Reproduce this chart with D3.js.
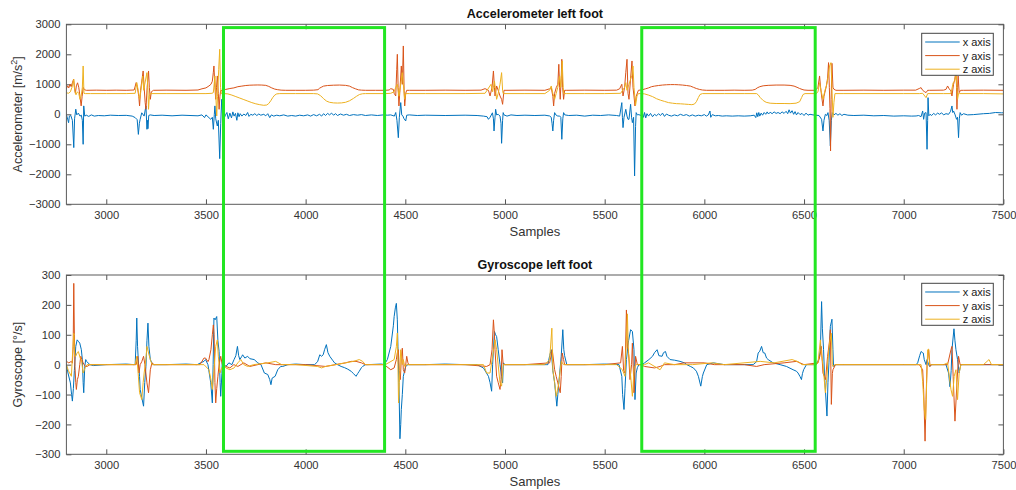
<!DOCTYPE html>
<html>
<head>
<meta charset="utf-8">
<script src="https://cdn.jsdelivr.net/npm/d3@7"></script>
<style>
  html, body { margin: 0; padding: 0; background: #ffffff; }
  svg { display: block; font-family: "Liberation Sans", Arial, Helvetica, sans-serif; }
  .tick text { fill: #333333; font-size: 11.2px; }
  .tick line { stroke: #555555; }
</style>
</head>
<body>
<svg id="chart" width="1016" height="490"></svg>
<script>
// ---- Series: [sample, value] ----
const seriesNames = ["x axis", "y axis", "z axis"];
const seriesColors = ["#0072BD", "#D95319", "#EDB120"];

// Accelerometer, x axis [m/s^2]
const accX = [[2800,-20],[2805,-120],[2811,-280],[2815,-60],[2822,-40],[2830,-200],[2837,-1110],[2841,-150],[2847,170],[2852,-20],[2860,40],[2868,-60],[2875,-30],[2880,-200],[2884,-1000],[2887,280],[2892,-60],[2900,-30],[2912,-70],[2925,-20],[2940,-60],[2960,-40],[2990,-50],[3020,-30],[3060,-40],[3100,-35],[3130,-60],[3145,-110],[3155,-180],[3161,-670],[3166,-300],[3170,-167],[3178,50],[3190,-60],[3199,280],[3204,-500],[3207,-200],[3209,-480],[3213,-40],[3220,-20],[3240,-40],[3280,-30],[3330,-50],[3380,-30],[3420,-40],[3460,-50],[3480,-20],[3493,-111],[3500,-20],[3510,-80],[3524,-167],[3532,-100],[3537,-500],[3542,0],[3545,280],[3549,-150],[3557,-389],[3562,-200],[3569,-1478],[3574,-300],[3579,500],[3584,-100],[3590,-160],[3598,-20],[3605,60],[3612,-150],[3620,40],[3628,-120],[3635,80],[3641,-60],[3648,30],[3655,-200],[3660,50],[3666,-80],[3672,20],[3680,-60],[3690,10],[3700,-40],[3709,60],[3716,-70],[3725,0],[3735,-30],[3745,20],[3755,-40],[3765,10],[3775,-30],[3790,0],[3800,-50],[3810,20],[3820,-110],[3828,-20],[3840,-60],[3855,-30],[3870,-50],[3890,-20],[3910,-60],[3930,-40],[3950,-60],[3970,-30],[3990,-50],[4010,-20],[4025,-60],[4040,-10],[4055,-50],[4070,0],[4080,-60],[4090,20],[4100,-40],[4110,30],[4120,-20],[4130,40],[4140,-30],[4150,20],[4160,-40],[4175,10],[4190,-30],[4205,0],[4220,-40],[4240,-10],[4260,-30],[4280,-10],[4300,-40],[4330,-20],[4360,-40],[4390,-20],[4410,-30],[4427,-20],[4445,-60],[4452,60],[4458,-200],[4465,-780],[4470,-100],[4477,390],[4482,-20],[4488,-60],[4493,-140],[4502,-222],[4507,-30],[4520,-20],[4560,-40],[4600,-30],[4700,-40],[4800,-30],[4860,-40],[4892,-60],[4910,-80],[4917,-167],[4925,-100],[4937,50],[4942,-150],[4945,-556],[4950,-100],[4953,167],[4958,-20],[4966,0],[4975,-60],[4980,-300],[4983,-967],[4988,-200],[4991,56],[4995,-20],[5010,-60],[5030,-20],[5060,-40],[5100,-30],[5150,-40],[5200,-30],[5224,-56],[5232,-100],[5236,-300],[5240,-556],[5244,-200],[5249,56],[5255,-20],[5265,-60],[5274,-56],[5280,-100],[5285,-833],[5290,-150],[5294,56],[5300,-20],[5320,-40],[5360,-30],[5400,-60],[5440,-30],[5480,-40],[5520,-20],[5560,-40],[5575,-60],[5586,389],[5589,-100],[5592,-444],[5597,-100],[5606,167],[5612,-60],[5617,-167],[5622,-167],[5630,333],[5635,-100],[5639,-278],[5645,-100],[5650,-2056],[5655,-400],[5658,56],[5664,-20],[5672,-10],[5680,-40],[5689,50],[5695,-100],[5700,60],[5706,-120],[5712,20],[5720,-60],[5730,30],[5740,-80],[5750,0],[5760,-50],[5770,20],[5780,-40],[5790,40],[5800,-70],[5810,10],[5820,-30],[5835,-60],[5850,-20],[5865,-50],[5880,0],[5895,-40],[5910,-10],[5925,-60],[5940,-20],[5955,-60],[5970,-30],[5985,-50],[6000,-10],[6010,-60],[6020,-20],[6028,110],[6032,-100],[6040,-10],[6055,-50],[6070,-40],[6090,-60],[6110,-50],[6140,-60],[6170,-50],[6200,-60],[6230,-50],[6250,-30],[6258,-110],[6263,50],[6268,-80],[6273,60],[6278,-60],[6285,40],[6292,-30],[6300,60],[6308,0],[6315,80],[6322,10],[6330,70],[6340,20],[6350,80],[6360,30],[6370,60],[6380,20],[6390,80],[6400,30],[6410,100],[6418,20],[6425,150],[6432,40],[6440,120],[6448,0],[6455,90],[6462,-20],[6470,60],[6480,-10],[6490,30],[6500,-40],[6510,40],[6520,-30],[6530,0],[6545,-20],[6560,-30],[6575,-40],[6588,-167],[6595,-556],[6600,-200],[6607,0],[6615,-40],[6620,56],[6626,-200],[6632,-1056],[6637,-200],[6642,56],[6650,-20],[6660,30],[6670,-30],[6680,20],[6690,-40],[6700,0],[6720,-30],[6750,-40],[6800,-30],[6850,-50],[6900,-40],[6950,-60],[7000,-50],[7040,-60],[7062,-56],[7075,-40],[7087,-80],[7095,111],[7100,-167],[7105,40],[7112,56],[7117,-1167],[7120,-200],[7122,555],[7126,-50],[7132,0],[7140,-40],[7150,30],[7160,-20],[7170,40],[7180,0],[7190,50],[7200,-20],[7212,20],[7225,0],[7235,100],[7242,278],[7246,60],[7250,111],[7258,-20],[7265,-167],[7270,-100],[7275,-778],[7279,-150],[7283,56],[7290,-30],[7300,20],[7320,-20],[7350,-10],[7400,20],[7430,30],[7460,60],[7490,50],[7500,50]];

// Accelerometer, y axis [m/s^2]
const accY = [[2800,850],[2806,950],[2812,880],[2818,1000],[2824,920],[2830,1050],[2836,1170],[2840,900],[2845,700],[2850,950],[2856,1050],[2862,900],[2868,600],[2874,280],[2879,600],[2884,900],[2890,820],[2900,800],[2950,805],[3000,800],[3050,805],[3100,800],[3140,810],[3150,1056],[3156,900],[3163,600],[3167,278],[3172,800],[3180,1200],[3185,1444],[3190,900],[3195,400],[3199,167],[3205,900],[3212,1444],[3216,900],[3221,500],[3226,750],[3237,800],[3300,805],[3400,800],[3460,810],[3480,850],[3500,880],[3515,944],[3525,1000],[3532,1100],[3537,1400],[3540,1611],[3545,900],[3549,500],[3553,900],[3557,1278],[3562,700],[3566,167],[3570,600],[3574,800],[3582,780],[3590,820],[3600,830],[3620,860],[3640,880],[3660,920],[3680,940],[3700,960],[3720,970],[3740,975],[3760,978],[3780,975],[3800,965],[3815,930],[3830,880],[3845,840],[3860,820],[3877,805],[3900,800],[3950,800],[4000,800],[4040,805],[4062,820],[4070,870],[4078,900],[4090,940],[4110,960],[4140,970],[4170,975],[4200,965],[4220,940],[4235,890],[4250,850],[4265,815],[4280,805],[4300,800],[4350,800],[4400,800],[4419,810],[4427,855],[4440,830],[4444,700],[4452,611],[4457,1500],[4460,2000],[4464,900],[4468,278],[4473,800],[4480,1611],[4485,1000],[4490,2278],[4494,800],[4497,278],[4502,700],[4507,800],[4520,800],[4600,800],[4700,805],[4800,800],[4880,805],[4900,855],[4917,800],[4925,611],[4935,900],[4942,1444],[4947,900],[4950,611],[4958,944],[4966,800],[4975,611],[4983,500],[4988,333],[4995,800],[5010,800],[5100,805],[5200,800],[5224,850],[5232,889],[5240,600],[5244,278],[5249,700],[5257,889],[5265,1000],[5270,1667],[5274,900],[5277,500],[5282,1200],[5285,1833],[5289,900],[5294,500],[5299,800],[5310,800],[5400,805],[5500,800],[5560,805],[5575,850],[5586,1000],[5592,611],[5600,900],[5606,1400],[5612,1833],[5617,700],[5622,500],[5630,1200],[5637,1778],[5642,900],[5647,611],[5652,278],[5658,600],[5669,800],[5680,810],[5690,820],[5705,850],[5720,880],[5735,920],[5750,940],[5770,960],[5790,975],[5810,985],[5830,990],[5850,990],[5870,985],[5890,975],[5910,960],[5930,940],[5945,900],[5960,860],[5975,830],[5990,810],[6010,800],[6050,800],[6100,800],[6150,805],[6200,800],[6240,805],[6255,830],[6265,880],[6278,920],[6295,950],[6320,965],[6360,975],[6400,975],[6430,965],[6450,940],[6465,900],[6478,860],[6490,830],[6500,810],[6520,800],[6550,800],[6562,830],[6570,900],[6578,1278],[6583,900],[6588,611],[6595,278],[6600,600],[6612,944],[6618,1200],[6623,1722],[6627,900],[6630,200],[6633,-1222],[6636,500],[6640,1700],[6645,900],[6650,833],[6660,800],[6700,800],[6800,805],[6900,800],[7000,805],[7060,805],[7078,860],[7087,889],[7095,800],[7103,760],[7112,722],[7120,800],[7130,800],[7200,805],[7212,830],[7220,944],[7228,850],[7237,780],[7242,611],[7250,1000],[7256,1167],[7262,1444],[7265,900],[7267,167],[7270,900],[7273,1278],[7278,722],[7285,800],[7300,800],[7400,805],[7500,800]];

// Accelerometer, z axis [m/s^2]
const accZ = [[2800,720],[2810,700],[2820,750],[2828,900],[2837,1167],[2842,800],[2848,650],[2855,750],[2862,700],[2868,500],[2874,600],[2880,900],[2884,1611],[2888,700],[2895,690],[2920,690],[3000,690],[3100,690],[3145,700],[3153,1056],[3160,800],[3167,500],[3172,700],[3183,1278],[3188,800],[3193,1000],[3204,1389],[3209,800],[3212,167],[3216,600],[3221,690],[3300,690],[3400,690],[3500,690],[3530,700],[3537,722],[3545,1278],[3549,700],[3554,-56],[3558,600],[3564,1500],[3569,2167],[3573,900],[3577,690],[3590,690],[3610,680],[3630,640],[3650,590],[3670,540],[3690,490],[3710,440],[3730,390],[3750,350],[3770,320],[3790,300],[3805,310],[3815,360],[3825,450],[3835,560],[3845,640],[3855,680],[3870,690],[3950,690],[4040,690],[4060,680],[4075,620],[4090,520],[4105,440],[4120,400],[4140,380],[4160,375],[4180,380],[4200,400],[4220,450],[4240,530],[4255,600],[4270,660],[4285,685],[4300,690],[4400,690],[4427,700],[4444,750],[4452,900],[4460,1000],[4468,600],[4475,900],[4485,1389],[4490,1000],[4497,500],[4502,690],[4520,690],[4600,690],[4800,690],[4900,700],[4930,1000],[4938,750],[4947,1111],[4953,800],[4958,500],[4966,700],[4975,1000],[4983,1389],[4988,800],[4991,690],[5000,690],[5100,690],[5200,690],[5224,800],[5232,944],[5240,700],[5249,500],[5257,700],[5265,900],[5274,1278],[5280,900],[5287,1778],[5292,900],[5295,690],[5310,690],[5400,690],[5500,690],[5580,700],[5600,900],[5606,1056],[5612,800],[5622,1000],[5630,1167],[5637,1300],[5642,1611],[5647,900],[5655,300],[5662,611],[5669,690],[5680,690],[5700,680],[5720,640],[5740,590],[5760,520],[5780,470],[5800,430],[5820,390],[5840,370],[5860,355],[5880,350],[5900,340],[5920,330],[5937,320],[5950,340],[5960,420],[5970,560],[5978,660],[5990,690],[6100,690],[6200,690],[6262,690],[6270,650],[6280,560],[6295,460],[6310,400],[6330,370],[6360,360],[6400,360],[6430,355],[6460,370],[6478,420],[6488,560],[6495,660],[6505,690],[6560,690],[6570,750],[6578,1056],[6585,800],[6595,500],[6605,800],[6612,944],[6620,1200],[6628,1611],[6635,1722],[6640,900],[6645,-100],[6650,400],[6655,690],[6700,690],[7000,690],[7080,690],[7095,700],[7112,555],[7120,690],[7200,690],[7237,690],[7248,1056],[7255,1100],[7263,1333],[7268,800],[7270,500],[7275,700],[7280,690],[7400,690],[7500,680]];

// Gyroscope, x axis [deg/s]
const gyroX = [[2800,0],[2808,-28],[2820,-61],[2826,-100],[2830,-122],[2835,-80],[2840,-20],[2847,61],[2854,83],[2860,78],[2867,72],[2875,50],[2880,17],[2884,-60],[2887,-94],[2892,-6],[2897,17],[2901,11],[2918,0],[2935,-3],[3000,0],[3100,2],[3140,0],[3145,2],[3150,80],[3153,156],[3157,60],[3162,0],[3167,-40],[3170,-83],[3178,-110],[3187,-139],[3193,-60],[3199,-6],[3204,80],[3209,139],[3214,60],[3221,17],[3230,4],[3237,0],[3300,0],[3400,2],[3456,0],[3473,6],[3490,11],[3498,17],[3510,0],[3524,-61],[3532,-128],[3536,0],[3540,156],[3546,150],[3554,161],[3560,80],[3566,44],[3571,-60],[3574,-106],[3580,-30],[3582,17],[3591,0],[3600,-6],[3615,6],[3630,0],[3641,17],[3650,30],[3658,61],[3664,30],[3670,17],[3680,28],[3684,33],[3695,22],[3709,28],[3720,20],[3742,17],[3760,6],[3776,0],[3793,-28],[3810,-33],[3820,-50],[3826,-67],[3832,-45],[3847,-39],[3860,-17],[3875,-6],[3885,-6],[3911,0],[3950,2],[4000,0],[4045,0],[4060,10],[4071,33],[4080,28],[4088,33],[4095,50],[4104,67],[4112,40],[4121,28],[4135,15],[4145,6],[4160,0],[4178,-6],[4195,-10],[4211,-15],[4228,-22],[4240,-30],[4253,-39],[4261,-30],[4269,-22],[4280,-10],[4286,-6],[4300,0],[4311,0],[4380,2],[4394,0],[4410,17],[4427,61],[4440,130],[4444,161],[4450,190],[4455,205],[4460,150],[4463,60],[4468,-61],[4473,-248],[4477,-200],[4480,-150],[4485,-100],[4490,-39],[4502,-6],[4513,0],[4600,0],[4700,2],[4800,0],[4859,0],[4892,-11],[4917,-39],[4925,-60],[4933,-89],[4938,0],[4942,50],[4947,111],[4953,100],[4958,94],[4966,50],[4975,0],[4983,-40],[4988,-61],[4992,6],[5000,0],[5008,0],[5100,0],[5207,0],[5215,0],[5224,30],[5232,50],[5240,-20],[5249,-61],[5260,-139],[5265,-100],[5270,-61],[5282,28],[5290,117],[5295,50],[5299,30],[5310,0],[5400,0],[5500,2],[5572,0],[5586,-39],[5590,-100],[5597,-150],[5602,-80],[5609,17],[5620,80],[5630,117],[5639,111],[5647,50],[5652,-117],[5658,-28],[5664,-10],[5672,0],[5689,0],[5700,6],[5722,17],[5740,28],[5750,40],[5763,50],[5772,30],[5788,28],[5795,40],[5805,44],[5812,28],[5828,17],[5850,15],[5878,11],[5900,6],[5912,0],[5930,-6],[5945,-11],[5960,-22],[5970,-39],[5982,-72],[5990,-40],[5995,-28],[6012,0],[6045,6],[6100,0],[6200,0],[6245,0],[6262,10],[6270,39],[6278,45],[6287,61],[6295,40],[6303,39],[6312,22],[6320,17],[6345,6],[6380,0],[6412,-6],[6445,-17],[6462,-22],[6470,-28],[6480,-40],[6487,-50],[6492,-30],[6498,-17],[6512,0],[6562,0],[6575,20],[6582,50],[6588,211],[6592,120],[6598,50],[6603,-40],[6607,-83],[6615,-172],[6620,-60],[6625,6],[6632,128],[6640,152],[6645,50],[6648,-6],[6657,0],[6700,0],[7000,0],[7062,0],[7070,6],[7080,30],[7087,44],[7095,40],[7098,39],[7103,17],[7112,0],[7117,17],[7125,0],[7130,-6],[7140,0],[7212,0],[7225,-28],[7232,-74],[7238,-20],[7242,50],[7252,120],[7257,80],[7262,50],[7270,17],[7278,-28],[7283,-10],[7287,0],[7400,0],[7500,0]];

// Gyroscope, y axis [deg/s]
const gyroY = [[2800,11],[2812,6],[2825,11],[2830,5],[2834,60],[2837,272],[2840,100],[2843,-6],[2847,-60],[2850,-83],[2855,-50],[2860,-39],[2867,0],[2872,28],[2878,17],[2884,6],[2894,-6],[2904,-6],[2918,0],[3000,0],[3100,0],[3150,0],[3158,28],[3164,-28],[3170,0],[3178,10],[3187,28],[3194,0],[3204,-61],[3212,-94],[3221,-17],[3229,6],[3240,0],[3400,0],[3470,0],[3490,22],[3498,22],[3510,10],[3515,17],[3525,50],[3532,100],[3537,133],[3541,100],[3545,-60],[3549,-128],[3554,-80],[3560,-39],[3566,0],[3574,28],[3582,0],[3591,0],[3600,-6],[3620,-11],[3640,0],[3660,-6],[3690,6],[3720,-6],[3760,0],[3800,6],[3850,0],[3900,0],[4000,0],[4100,-6],[4150,0],[4200,6],[4228,11],[4253,11],[4280,6],[4300,0],[4394,0],[4427,-17],[4444,-11],[4455,17],[4460,40],[4465,50],[4470,-20],[4475,-50],[4480,20],[4485,55],[4490,-17],[4497,-28],[4507,28],[4513,6],[4518,0],[4600,0],[4800,0],[4908,-6],[4925,0],[4935,50],[4942,150],[4947,100],[4950,50],[4958,-39],[4966,-60],[4975,-83],[4980,-50],[4985,50],[4991,0],[5000,0],[5100,0],[5224,6],[5237,50],[5249,-17],[5257,-40],[5265,-61],[5277,-94],[5282,-40],[5287,39],[5294,17],[5299,0],[5310,0],[5400,0],[5500,0],[5580,6],[5589,61],[5595,-20],[5602,-28],[5609,183],[5614,60],[5619,50],[5627,-50],[5635,0],[5639,72],[5645,-40],[5647,-94],[5655,28],[5664,0],[5680,0],[5700,-6],[5750,-11],[5778,-6],[5800,0],[5850,0],[5900,6],[6000,6],[6050,0],[6200,0],[6262,-6],[6300,0],[6400,6],[6462,11],[6500,0],[6570,6],[6580,30],[6587,61],[6595,-28],[6608,-50],[6618,28],[6628,80],[6632,117],[6637,-133],[6642,-30],[6645,-17],[6658,0],[6700,0],[7000,0],[7078,0],[7095,-17],[7100,-83],[7107,-256],[7112,-117],[7117,0],[7125,50],[7132,-6],[7140,0],[7212,0],[7220,0],[7237,50],[7242,61],[7248,-39],[7257,-189],[7267,-61],[7275,28],[7283,0],[7300,0],[7500,0]];

// Gyroscope, z axis [deg/s]
const gyroZ = [[2800,0],[2810,-20],[2825,-39],[2832,50],[2837,105],[2842,28],[2847,28],[2854,40],[2860,44],[2870,20],[2875,17],[2884,-28],[2894,-10],[2904,0],[2918,0],[3000,0],[3100,0],[3145,0],[3153,28],[3160,-30],[3167,-94],[3178,-117],[3185,-60],[3190,-28],[3199,20],[3204,61],[3212,39],[3221,17],[3230,0],[3300,0],[3400,0],[3490,0],[3515,-17],[3525,-50],[3532,-83],[3540,-20],[3549,61],[3557,83],[3562,28],[3570,-28],[3580,-10],[3588,0],[3600,-11],[3620,-17],[3641,-11],[3660,6],[3675,17],[3690,0],[3709,-6],[3740,0],[3810,6],[3850,11],[3880,0],[3950,0],[4060,-6],[4080,-11],[4100,-6],[4150,0],[4200,6],[4240,11],[4269,17],[4286,11],[4300,0],[4400,0],[4444,17],[4455,60],[4460,106],[4463,0],[4466,-128],[4470,-60],[4477,50],[4485,0],[4490,17],[4497,-6],[4507,0],[4600,0],[4859,0],[4892,0],[4908,-28],[4925,-28],[4938,28],[4950,83],[4958,50],[4975,-61],[4983,-72],[4991,0],[5000,0],[5100,0],[5200,0],[5224,17],[5235,122],[5240,-17],[5249,-60],[5257,-106],[5270,-61],[5282,11],[5294,0],[5300,0],[5400,0],[5560,0],[5589,-17],[5602,-39],[5614,170],[5619,40],[5622,28],[5639,-106],[5648,-10],[5658,0],[5680,0],[5700,0],[5720,6],[5778,-17],[5800,6],[5850,0],[5940,0],[6037,6],[6100,0],[6280,11],[6350,6],[6440,17],[6470,10],[6490,0],[6560,0],[6570,6],[6582,83],[6588,30],[6595,0],[6607,-94],[6615,-40],[6620,17],[6628,72],[6637,105],[6642,0],[6645,-6],[6653,0],[6700,0],[7000,0],[7087,0],[7095,-56],[7103,-150],[7110,-183],[7115,-61],[7120,50],[7125,52],[7130,0],[7140,0],[7200,0],[7220,6],[7237,-83],[7245,-106],[7253,-39],[7262,-17],[7270,-117],[7278,-28],[7287,0],[7400,0],[7428,17],[7440,0],[7500,0]];

// Axis ticks
const sampleTicks = [3000, 3500, 4000, 4500, 5000, 5500, 6000, 6500, 7000, 7500];
const accTicks = [-3000, -2000, -1000, 0, 1000, 2000, 3000];
const gyroTicks = [-300, -200, -100, 0, 100, 200, 300];

// Highlighted sample windows (start, end), framed across both panels
const windows = [[3588, 4396], [5686, 6556]];
const windowAccTop = 2890;   // upper edge, accelerometer units
const windowGyroBottom = -290; // lower edge, gyroscope units

// ---- Layout ----
const svg = d3.select("#chart");
const left = 66.4, right = 1003.4;
const x = d3.scaleLinear().domain([2800, 7500]).range([left, right]);
const plain = d3.format("d");

const panels = [
  { title: "Accelerometer left foot", label: ["Accelerometer [m/s", "2", "]"],
    series: [accX, accY, accZ], ticks: accTicks, domain: [-3000, 3000],
    top: 24.3, bottom: 204.3, legendTop: 33.3 },
  { title: "Gyroscope left foot", label: ["Gyroscope [°/s]"],
    series: [gyroX, gyroY, gyroZ], ticks: gyroTicks, domain: [-300, 300],
    top: 275, bottom: 454.3, legendTop: 283.3 }
];

panels.forEach((p, i) => {
  const y = d3.scaleLinear().domain(p.domain).range([p.bottom, p.top]);
  p.y = y;
  const g = svg.append("g");

  const clipId = "clip" + i;
  svg.append("clipPath").attr("id", clipId)
    .append("rect").attr("x", left).attr("y", p.top)
    .attr("width", right - left).attr("height", p.bottom - p.top);

  // axes (inward ticks on all four sides)
  const bottomAxis = d3.axisBottom(x).tickValues(sampleTicks).tickFormat(plain).tickSize(-5).tickPadding(7).tickSizeOuter(0);
  const topAxis = d3.axisTop(x).tickValues(sampleTicks).tickSize(-5).tickFormat("").tickSizeOuter(0);
  const leftAxis = d3.axisLeft(y).tickValues(p.ticks).tickFormat(plain).tickSize(-5).tickPadding(6).tickSizeOuter(0);
  const rightAxis = d3.axisRight(y).tickValues(p.ticks).tickSize(-5).tickFormat("").tickSizeOuter(0);

  g.append("g").attr("transform", `translate(0,${p.bottom})`).call(bottomAxis);
  g.append("g").attr("transform", `translate(0,${p.top})`).call(topAxis);
  g.append("g").attr("transform", `translate(${left},0)`).call(leftAxis);
  g.append("g").attr("transform", `translate(${right},0)`).call(rightAxis);
  g.selectAll(".domain").remove();
  g.selectAll(".tick text").style("font-family", "'Liberation Sans', Arial, sans-serif");

  // traces
  const line = d3.line().x(d => x(d[0])).y(d => y(d[1]));
  const traces = g.append("g").attr("clip-path", `url(#${clipId})`);
  p.series.forEach((s, k) => {
    traces.append("path").datum(s)
      .attr("d", line)
      .attr("fill", "none")
      .attr("stroke", seriesColors[k])
      .attr("stroke-width", 1)
      .attr("stroke-linejoin", "round");
  });

  // frame
  g.append("rect").attr("x", left).attr("y", p.top)
    .attr("width", right - left).attr("height", p.bottom - p.top)
    .attr("fill", "none").attr("stroke", "#5a5a5a").attr("stroke-width", 1);

  // title
  g.append("text").attr("x", (left + right) / 2).attr("y", p.top - 6)
    .attr("text-anchor", "middle").attr("font-weight", "bold")
    .attr("font-size", 12.5).attr("fill", "#111").text(p.title);

  // x label
  g.append("text").attr("x", (left + right) / 2).attr("y", p.bottom + 32)
    .attr("text-anchor", "middle").attr("font-size", 13).attr("fill", "#333").text("Samples");

  // y label
  const cy = (p.top + p.bottom) / 2;
  const yl = g.append("text").attr("transform", `translate(22,${cy}) rotate(-90)`)
    .attr("text-anchor", "middle").attr("font-size", 12.5).attr("fill", "#333");
  yl.append("tspan").text(p.label[0]);
  if (p.label.length > 1) {
    yl.append("tspan").attr("dy", -5).attr("font-size", 9).text(p.label[1]);
    yl.append("tspan").attr("dy", 5).text(p.label[2]);
  }

  // legend
  const lg = g.append("g").attr("transform", `translate(921.7,${p.legendTop})`);
  lg.append("rect").attr("width", 71.6).attr("height", 42)
    .attr("fill", "#fff").attr("stroke", "#444").attr("stroke-width", 1);
  seriesNames.forEach((n, k) => {
    const ly = 8.7 + k * 13.6;
    lg.append("line").attr("x1", 3.5).attr("x2", 38).attr("y1", ly).attr("y2", ly)
      .attr("stroke", seriesColors[k]).attr("stroke-width", 1);
    lg.append("text").attr("x", 41).attr("y", ly + 4).attr("font-size", 11)
      .attr("fill", "#222").text(n);
  });
});

// highlight frames spanning both panels
const yTopEdge = panels[0].y(windowAccTop);
const yBottomEdge = panels[1].y(windowGyroBottom);
svg.append("g").selectAll("rect").data(windows).join("rect")
  .attr("x", d => x(d[0]))
  .attr("y", yTopEdge)
  .attr("width", d => x(d[1]) - x(d[0]))
  .attr("height", yBottomEdge - yTopEdge)
  .attr("fill", "none")
  .attr("stroke", "#22e622")
  .attr("stroke-width", 3);
</script>
</body>
</html>
